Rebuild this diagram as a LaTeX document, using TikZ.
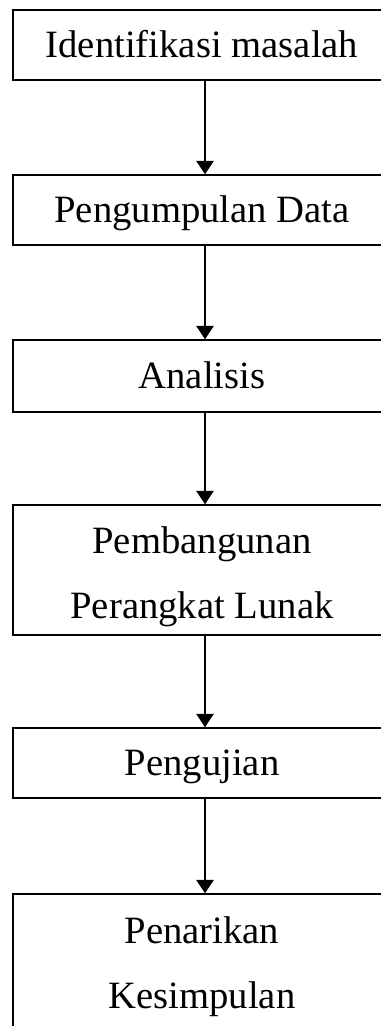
\documentclass[tikz,border=0pt]{standalone}
\usepackage{fontspec}
\setmainfont{Liberation Serif}
\usepackage{tikz}
\usetikzlibrary{arrows.meta}
\usetikzlibrary{shapes}

\begin{document}
\begin{tikzpicture}[x=0.75pt, y=-0.75pt,
  box/.style={rectangle, draw=black, line width=1.1pt, minimum width=283.5pt, minimum height=52.5pt, inner sep=0pt, font=\fontsize{29}{48.75}\selectfont, text height=18pt, text depth=0pt},
  tallbox/.style={box, align=center, minimum height=97.5pt, text height=72pt, text depth=0pt},
  flow/.style={-{Triangle[width=13pt, length=10pt]}, draw=black, line width=1.1pt}]
\clip (0, 0) rectangle (381, 1026);
\node [box] (ident) at (202, 45) {Identifikasi masalah};
\node [box] (kumpul) at (202, 210) {Pengumpulan Data};
\node [box, minimum height=54pt] (analisis) at (202, 376) {Analisis};
\node [tallbox] (bangun) at (202, 570) {Pembangunan\\Perangkat Lunak};
\node [box] (uji) at (202, 763) {Pengujian};
\node [tallbox, minimum height=105pt, text height=66pt] (simpul) at (202, 964) {Penarikan\\Kesimpulan};
\draw [flow] ([xshift=2.25pt]ident.south) to ([xshift=2.25pt]kumpul.north);
\draw [flow] ([xshift=2.25pt]kumpul.south) to ([xshift=2.25pt]analisis.north);
\draw [flow] ([xshift=2.25pt]analisis.south) to ([xshift=2.25pt]bangun.north);
\draw [flow] ([xshift=2.25pt]bangun.south) to ([xshift=2.25pt]uji.north);
\draw [flow] ([xshift=2.25pt]uji.south) to ([xshift=2.25pt]simpul.north);
\end{tikzpicture}
\end{document}
